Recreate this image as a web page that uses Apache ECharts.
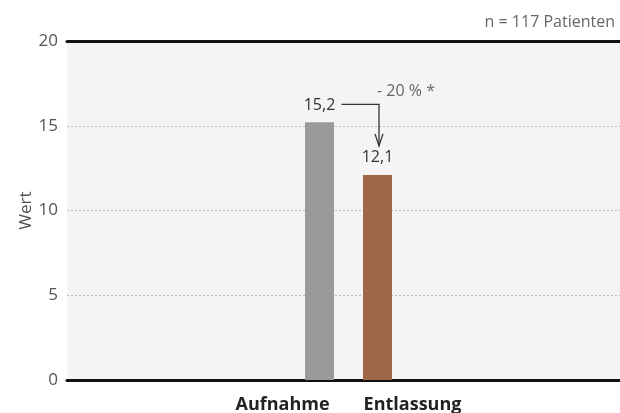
<!DOCTYPE html>
<html>
<head>
<meta charset="utf-8">
<script src="https://cdn.jsdelivr.net/npm/echarts@6/dist/echarts.min.js"></script>
<style>
  html, body { margin: 0; padding: 0; background: #fff; }
  #chart { width: 620px; height: 413px; }
</style>
</head>
<body>
<div id="chart"></div>
<script>
// Werte aus der Vorlage
var categories = ['Aufnahme', 'Entlassung'];
var values = [15.2, 12.1];
var colors = ['#9a9a9a', '#9e6547'];
var yTicks = [0, 5, 10, 15, 20];
var changeText = '- 20 % *';
var subtitle = 'n = 117 Patienten';

var font = 'Open Sans';

function fmt(v) {
  return String(v).replace('.', ',');
}

var series = categories.map(function (name, i) {
  return {
    name: name,
    type: 'bar',
    barWidth: 29,
    barGap: '100%',
    itemStyle: { color: colors[i] },
    label: {
      show: true,
      position: 'top',
      distance: 9,
      fontFamily: font,
      fontSize: 16,
      color: '#333',
      formatter: function (p) { return fmt(p.value); }
    },
    data: [values[i]]
  };
});

var option = {
  animation: false,
  title: {
    text: subtitle,
    right: 0,
    top: 9,
    textStyle: { fontFamily: font, fontSize: 16, fontWeight: 'normal', color: '#666' }
  },
  grid: {
    left: 67,
    width: 563,   // Plotfläche läuft rechts über den Rand hinaus
    top: 41,
    bottom: 33,
    outerBoundsMode: 'none',
    show: true,
    backgroundColor: '#f3f4f3',
    borderWidth: 0
  },
  xAxis: [
    {
      type: 'category',
      data: [''],
      axisLine: { lineStyle: { color: '#111', width: 3 } },
      axisTick: { show: false },
      axisLabel: {
        margin: 16,
        interval: 0,
        formatter: function () {
          return '{a|' + categories[0] + '}{g|}{b|' + categories[1] + '}';
        },
        rich: {
          a: { fontFamily: font, fontSize: 18, fontWeight: 'bold', color: '#222' },
          g: { width: 34 },
          b: { fontFamily: font, fontSize: 18, fontWeight: 'bold', color: '#222' }
        }
      }
    },
    {
      type: 'category',
      position: 'top',
      data: [''],
      axisLine: { lineStyle: { color: '#111', width: 3 } },
      axisTick: { show: false },
      axisLabel: { show: false }
    }
  ],
  yAxis: {
    type: 'value',
    min: yTicks[0],
    max: yTicks[yTicks.length - 1],
    interval: yTicks[1] - yTicks[0],
    name: 'Wert',
    nameLocation: 'middle',
    nameGap: 32,
    nameMoveOverlap: false,
    nameTextStyle: { fontFamily: font, fontSize: 17, color: '#555' },
    axisLine: { show: false },
    axisTick: { show: false },
    axisLabel: { margin: 9, fontFamily: font, fontSize: 17, color: '#555' },
    splitLine: {
      lineStyle: { color: '#bbb', type: [2, 2], width: 1 }
    }
  },
  series: series
};

var chart = echarts.init(document.getElementById('chart'));
chart.setOption(option);

// Pfeil-Annotation zwischen den Balken
function drawArrow() {
  var cx = chart.convertToPixel({ xAxisIndex: 0 }, 0);
  var x1 = cx - 29;
  var x2 = cx + 29;
  var top1 = chart.convertToPixel({ yAxisIndex: 0 }, values[0]);
  var top2 = chart.convertToPixel({ yAxisIndex: 0 }, values[1]);
  var lineY = top1 - 18;
  var ax = x2 + 1.5;
  var tipY = top2 - 29;
  var stroke = { stroke: '#333', lineWidth: 1.3, fill: null };
  chart.setOption({
    graphic: [
      {
        type: 'polyline',
        shape: { points: [[x1 + 22, lineY], [ax, lineY], [ax, tipY]] },
        style: stroke,
        silent: true
      },
      {
        type: 'polyline',
        shape: { points: [[ax - 4, tipY - 12], [ax, tipY], [ax + 4, tipY - 12]] },
        style: stroke,
        silent: true
      },
      {
        type: 'text',
        x: ax - 2,
        y: lineY - 13,
        style: {
          text: changeText,
          fontFamily: font,
          fontSize: 16,
          fill: '#666',
          textVerticalAlign: 'middle'
        },
        silent: true
      }
    ]
  });
}
drawArrow();

window.addEventListener('resize', function () {
  chart.resize();
  drawArrow();
});
</script>
</body>
</html>
